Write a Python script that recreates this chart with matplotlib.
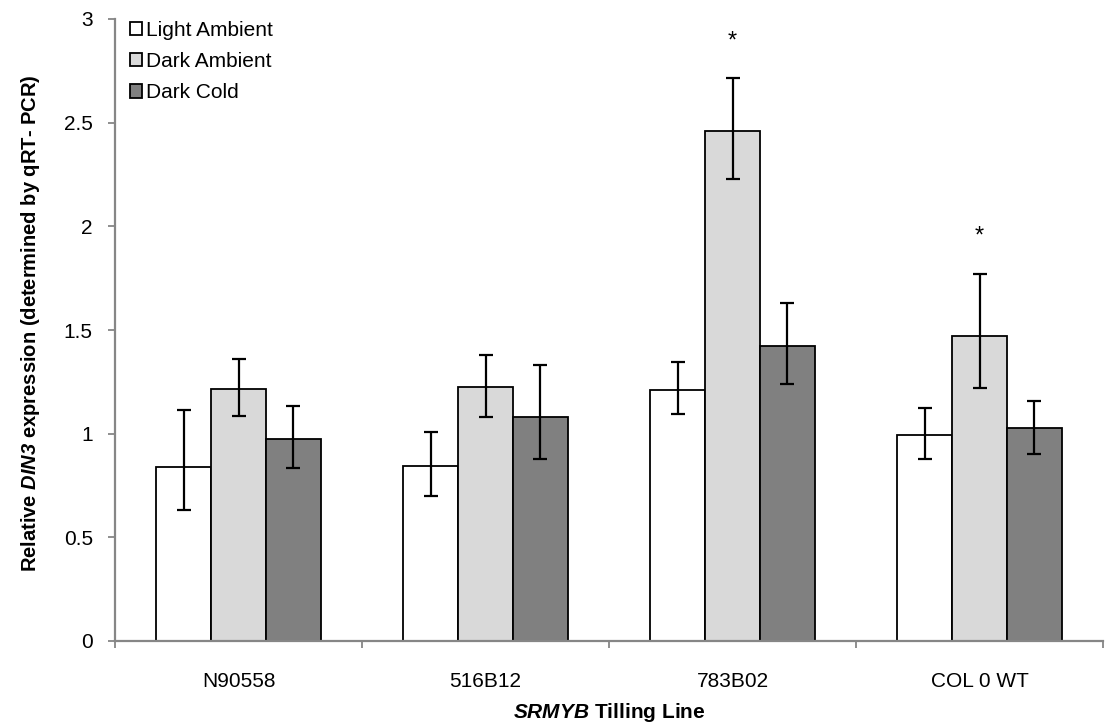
import matplotlib.pyplot as plt
import numpy as np

plt.rcParams['font.family'] = ['Liberation Sans', 'DejaVu Sans']
plt.rcParams['mathtext.fontset'] = 'custom'
plt.rcParams['mathtext.rm'] = 'Liberation Sans'
plt.rcParams['mathtext.bf'] = 'Liberation Sans:bold'
plt.rcParams['mathtext.bfit'] = 'Liberation Sans:italic:bold'

lines = ['N90558', '516B12', '783B02', 'COL 0 WT']
series = ['Light Ambient', 'Dark Ambient', 'Dark Cold']
colors = ['#FFFFFF', '#D9D9D9', '#808080']

light = [0.84, 0.845, 1.21, 0.995]
light_lo = [0.632, 0.701, 1.094, 0.878]
light_hi = [1.114, 1.01, 1.344, 1.124]

dark_amb = [1.215, 1.225, 2.462, 1.473]
dark_amb_lo = [1.087, 1.082, 2.229, 1.222]
dark_amb_hi = [1.36, 1.38, 2.717, 1.77]

dark_cold = [0.975, 1.08, 1.425, 1.025]
dark_cold_lo = [0.835, 0.877, 1.241, 0.902]
dark_cold_hi = [1.134, 1.33, 1.629, 1.158]

# asterisks over the Dark Ambient bars
stars = {2: 2.89, 3: 1.95}

means = [light, dark_amb, dark_cold]
lows = [light_lo, dark_amb_lo, dark_cold_lo]
highs = [light_hi, dark_amb_hi, dark_cold_hi]

fig = plt.figure(figsize=(11.05, 7.25), dpi=100)
ax = fig.add_axes([115 / 1105, 84 / 725, 988 / 1105, 622 / 725])

x = np.arange(len(lines))
w = 0.222
for i, (m, lo, hi) in enumerate(zip(means, lows, highs)):
    m = np.array(m)
    yerr = [m - np.array(lo), np.array(hi) - m]
    ax.bar(x + (i - 1) * w, m, w, color=colors[i], edgecolor='black',
           linewidth=1.3, label=series[i], zorder=2)
    ax.errorbar(x + (i - 1) * w, m, yerr=yerr, fmt='none', ecolor='black',
                elinewidth=1.6, capsize=5, capthick=1.6, zorder=3)

for k, yv in stars.items():
    ax.text(x[k], yv, '*', ha='center', va='center', fontsize=17)

ax.set_xlim(-0.5, len(lines) - 0.5)
ax.set_ylim(0, 3)
ax.set_yticks(np.arange(0, 3.01, 0.5))
ax.set_yticklabels(['0', '0.5', '1', '1.5', '2', '2.5', '3'])
ax.set_xticks(x)
ax.set_xticklabels(lines)
ax.set_xticks(np.arange(-0.5, len(lines)), minor=True)
ax.tick_params(axis='x', which='major', length=0, pad=22, labelsize=15)
ax.tick_params(axis='x', which='minor', length=5, width=1.3, color='#868686', direction='out')
ax.tick_params(axis='y', length=5, width=1.3, color='#868686', direction='out',
               labelsize=15, pad=11)

for s in ['top', 'right']:
    ax.spines[s].set_visible(False)
for s in ['left', 'bottom']:
    ax.spines[s].set_color('#868686')
    ax.spines[s].set_linewidth(1.6)

ax.set_ylabel(r'Relative $\mathbfit{DIN3}$ expression (determined by qRT- PCR)',
              fontweight='bold', fontsize=14.5)
ax.yaxis.set_label_coords(-0.074, 0.511)
ax.set_xlabel(r'$\mathbfit{SRMYB}$ Tilling Line', fontweight='bold', fontsize=15)
ax.xaxis.set_label_coords(0.5, -0.097)

ax.legend(loc='upper left', bbox_to_anchor=(0.0, 1.02), frameon=False,
          fontsize=15, handlelength=0.6, handleheight=0.6, handletextpad=0.2,
          labelspacing=0.58, borderaxespad=0.3)

plt.savefig('out.png', dpi=100)
plt.close()
